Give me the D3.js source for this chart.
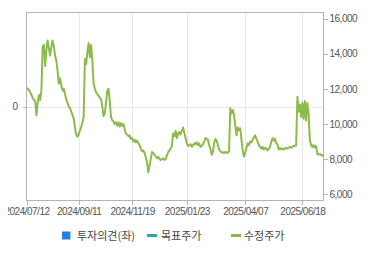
<!DOCTYPE html>
<html>
<head>
<meta charset="UTF-8">
<title>price_chart</title>
<style type="text/css">
	body { margin: 0; background: #fff; }
	.axis path, .axis line { stroke: #b4b4b4; shape-rendering: crispEdges; }
	.axis text { font-family: "Liberation Sans", Arial, sans-serif; font-size: 10px; fill: #555; letter-spacing: -0.5px; }
	.grid line { stroke: #e8e8e8; shape-rendering: crispEdges; }
	.legend text { font-family: "Noto Sans CJK KR", sans-serif; font-size: 11px; fill: #444; }
</style>
<script type="text/javascript" src="https://cdn.jsdelivr.net/npm/d3@7/dist/d3.min.js"></script>
</head>
<body>
<div id="div_main"></div>
<script type="text/javascript">

	// adjusted close, one value per trading day (2024/07/12 .. 2025/07)
	var prices = [
		12050, 12000, 11930, 11800, 11650, 11500, 11360, 11300, 10500, 11200,
		11650, 11360, 11930, 14400, 14500, 13300, 14200, 14750, 14300, 13900,
		14400, 14750, 14400, 13900, 13600, 13000, 12300, 12600, 12200, 11900,
		12000, 11700, 11400, 11200, 11000, 10900, 10700, 10500, 10300, 9800,
		9400, 9280, 9400, 9650, 9800, 10100, 10400, 13700, 13400, 14100,
		14600, 13800, 14500, 13600, 12300, 12000, 11800, 11700, 11600, 11500,
		11400, 11000, 10450, 10600, 11200, 11900, 12000, 11300, 10400, 10200,
		10150, 10000, 10100, 9900, 10100, 9850, 10050, 9900, 10000, 9700,
		9450, 9400, 9300, 9350, 9150, 9200, 9000, 9100, 8950, 9050,
		8900, 8800, 8600, 8450, 8500, 8350, 8100, 7800, 7250, 7600,
		8000, 8400, 8350, 8250, 8150, 8050, 8150, 8000, 7950, 8000,
		8050, 7950, 8000, 8200, 8400, 8500, 8600, 8750, 9450, 9300,
		9600, 9200, 9450, 9550, 9400, 9600, 9800, 9500, 9200, 8900,
		8750, 8800, 8850, 8700, 8800, 8900, 8850, 8950, 8800, 8900,
		8700, 8750, 8850, 9000, 9200, 9150, 9100, 8800, 8600, 8250,
		8400, 8900, 9150, 9050, 8800, 8550, 8450, 8400, 8350, 8400,
		8350, 8400, 8350, 8450, 10900, 10600, 10800, 10500, 9900, 9350,
		9800, 9650, 9750, 9100, 8500, 8150, 8350, 8650, 8900, 8800,
		9000, 8950, 9100, 9250, 9350, 9150, 9000, 8800, 8700, 8600,
		8700, 8550, 8650, 8600, 8500, 8600, 8700, 9000, 9200, 9050,
		9150, 8900, 8850, 8550, 8650, 8550, 8600, 8550, 8600, 8650,
		8600, 8650, 8700, 8650, 8700, 8750, 8750, 8800, 11550, 10700,
		11100, 10400, 11200, 10300, 11300, 10200, 11200, 10600, 9100, 8800,
		8700, 8800, 8650, 8750, 8300, 8250, 8300, 8250, 8200, 8250
	];

	var dateLabels = ["2024/07/12", "2024/09/11", "2024/11/19", "2025/01/23", "2025/04/07", "2025/06/18"];
	var dateIndex = [0, 42, 85, 129, 176, 222];
	var priceTicks = [6000, 8000, 10000, 12000, 14000, 16000];
	var opinionTicks = [0];
	var legendNames = ["투자의견(좌)", "목표주가", "수정주가"];

	var svg_w = 370, svg_h = 255;
	var pLeft = 26.5, pRight = 323.5, pTop = 12.5, pBottom = 200.5;

	var svg = d3.select("#div_main").append("svg")
		.attr("width", svg_w)
		.attr("height", svg_h);

	var scaleX = d3.scaleLinear()
		.domain([0, prices.length - 1])
		.range([pLeft, pRight]);

	var scaleY = d3.scaleLinear()
		.domain([6000, 16000])
		.range([194.3, 18.5]);

	var scaleL = d3.scaleLinear()
		.domain([-1, 1])
		.range([pBottom, pTop]);

	// the chart box cuts the first date label on the left
	svg.append("clipPath").attr("id", "clipLabels")
		.append("rect").attr("x", 8).attr("y", -20).attr("width", svg_w).attr("height", svg_h);

	// grid
	svg.append("g").attr("class", "grid")
		.selectAll("line.v")
		.data(dateIndex.slice(1))
		.enter().append("line")
			.attr("x1", function (d) { return Math.round(scaleX(d)) + 0.5; })
			.attr("x2", function (d) { return Math.round(scaleX(d)) + 0.5; })
			.attr("y1", pTop).attr("y2", pBottom);

	svg.append("g").attr("class", "grid")
		.selectAll("line.h")
		.data(opinionTicks)
		.enter().append("line")
			.attr("x1", pLeft).attr("x2", pRight)
			.attr("y1", function (d) { return Math.round(scaleL(d)) + 0.5; })
			.attr("y2", function (d) { return Math.round(scaleL(d)) + 0.5; });

	// frame
	svg.append("rect")
		.attr("x", pLeft).attr("y", pTop)
		.attr("width", pRight - pLeft).attr("height", pBottom - pTop)
		.attr("fill", "none").attr("stroke", "#b4b4b4")
		.attr("shape-rendering", "crispEdges");

	// axes
	svg.append("g").attr("class", "axis")
		.attr("transform", "translate(0," + pBottom + ")")
		.attr("clip-path", "url(#clipLabels)")
		.call(d3.axisBottom(scaleX)
			.tickValues(dateIndex)
			.tickSize(4)
			.tickPadding(3)
			.tickFormat(function (d, i) { return dateLabels[i]; }));

	svg.append("g").attr("class", "axis")
		.attr("transform", "translate(" + pRight + ",0)")
		.call(d3.axisRight(scaleY)
			.tickValues(priceTicks)
			.tickSize(4)
			.tickPadding(2)
			.tickFormat(d3.format(",")));

	svg.append("g").attr("class", "axis")
		.attr("transform", "translate(" + pLeft + ",0)")
		.call(d3.axisLeft(scaleL)
			.tickValues(opinionTicks)
			.tickSize(4)
			.tickPadding(5)
			.tickFormat(d3.format("d")));

	svg.selectAll(".axis .domain").remove();

	// price line
	var line = d3.line()
		.x(function (d, i) { return scaleX(i); })
		.y(function (d) { return scaleY(d); });

	svg.append("path")
		.datum(prices)
		.attr("d", line)
		.attr("fill", "none")
		.attr("stroke", "#8cbb4c")
		.attr("stroke-width", 2)
		.attr("stroke-linejoin", "round");

	// legend
	var lg = svg.append("g").attr("class", "legend");
	lg.append("rect")
		.attr("x", 62).attr("y", 231.5).attr("width", 8.5).attr("height", 8)
		.attr("fill", "#2a7de1");
	lg.append("line")
		.attr("x1", 147).attr("x2", 157).attr("y1", 235.5).attr("y2", 235.5)
		.attr("stroke", "#2aa9bb").attr("stroke-width", 3);
	lg.append("line")
		.attr("x1", 231).attr("x2", 241).attr("y1", 235.5).attr("y2", 235.5)
		.attr("stroke", "#8cbb4c").attr("stroke-width", 3);

	lg.selectAll("text")
		.data(legendNames)
		.enter().append("text")
			.attr("x", function (d, i) { return [77, 161, 244][i]; })
			.attr("y", 239.5)
			.text(function (d) { return d; });

</script>
</body>
</html>
